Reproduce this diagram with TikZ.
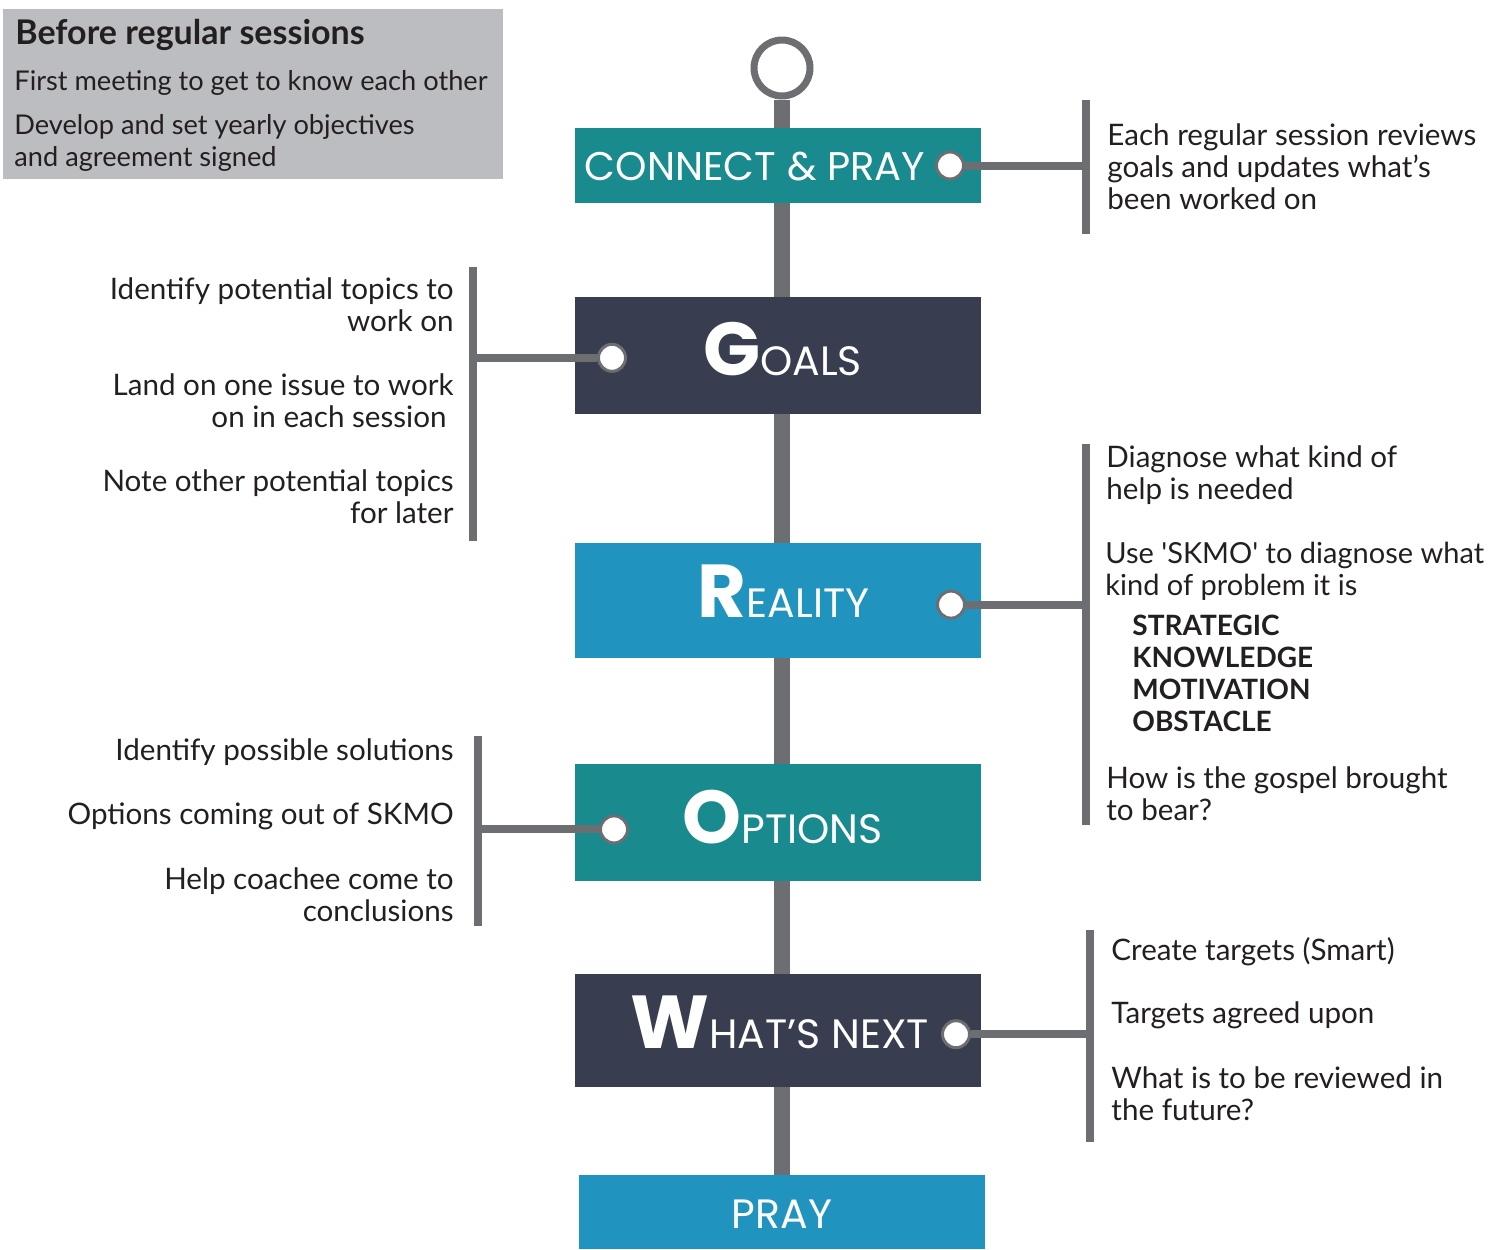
\documentclass[tikz,border=0pt]{standalone}
\usepackage{fontspec}
\setmainfont{Lato}
\newfontfamily\stagefont{Poppins}
\usetikzlibrary{positioning,backgrounds}
\definecolor{stageteal}{HTML}{198A8E}
\definecolor{stagenavy}{HTML}{383D50}
\definecolor{stageblue}{HTML}{2093BF}
\definecolor{linegray}{HTML}{6D6E72}
\definecolor{boxgray}{HTML}{BCBDC1}
\definecolor{inkgray}{HTML}{231F20}
\newcommand\stagecap[2]{{\fontsize{37.5}{37.5}\selectfont\bfseries #1}#2}

\begin{document}
\begin{tikzpicture}[x=0.5pt,y=-0.5pt,
  stage/.style={rectangle, minimum width=203pt, inner sep=0pt},
  stagelabel/.style={text=white, inner sep=0pt, font=\stagefont\fontsize{20.5}{20.5}\selectfont},
  knob/.style={circle, draw=linegray, fill=white, line width=1.5pt, minimum size=13.5pt, inner sep=0pt},
  bar/.style={rectangle, fill=linegray, minimum width=3.75pt, inner sep=0pt},
  branch/.style={draw=linegray, line width=4pt},
  note/.style={text=inkgray, inner sep=0pt, font=\fontsize{14.8}{16}\selectfont},
  boxnote/.style={note, font=\fontsize{13.6}{16}\selectfont}]
\useasboundingbox (0,0) rectangle (1495,1249);

% before regular sessions
\node [rectangle, fill=boxgray, minimum width=250pt, minimum height=85pt, inner sep=0pt] (before) at (253,94) {};
\node [note, anchor=west, font=\fontsize{17}{18}\selectfont\bfseries] (beforett) at (15,35) {Before regular sessions};
\node [boxnote, anchor=west] (before1) at (14,82.5) {First meeting to get to know each other};
\node [boxnote, anchor=west, align=left] (before2) at (14,143) {Develop and set yearly objectives\\and agreement signed};

% stages
\node [circle, draw=linegray, fill=white, line width=3.5pt, minimum size=28pt, inner sep=0pt] (top) at (782,68) {};
\node [stage, fill=stageteal, minimum height=37.5pt] (connect) at (778,165.5) {};
\node [stage, fill=stagenavy, minimum height=58.5pt, below=46.5pt of connect] (goals) {};
\node [stage, fill=stageblue, minimum height=57.5pt, below=64pt of goals] (reality) {};
\node [stage, fill=stageteal, minimum height=58.5pt, below=53pt of reality] (options) {};
\node [stage, fill=stagenavy, minimum height=56.5pt, below=46pt of options] (whats) {};
\node [stage, fill=stageblue, minimum height=37pt, below=43.5pt of whats, xshift=2pt] (pray) {};
\begin{scope}[on background layer]
\draw [linegray, line width=8pt] (top) -- (pray);
\end{scope}

\node [stagelabel, anchor=base, font=\stagefont\fontsize{20}{20}\selectfont] (connectlbl) at ([xshift=-11.5pt,yshift=-7.25pt]connect.center) {CONNECT \& PRAY};
\node [stagelabel, anchor=base] (goalslbl) at ([xshift=2.25pt,yshift=-10.25pt]goals.center) {\stagecap{G}{OALS}};
\node [stagelabel, anchor=base] (realitylbl) at ([xshift=2.75pt,yshift=-8.75pt]reality.center) {\stagecap{R}{EALITY}};
\node [stagelabel, anchor=base] (optionslbl) at ([xshift=2.25pt,yshift=-10.25pt]options.center) {\stagecap{O}{PTIONS}};
\node [stagelabel, anchor=base] (whatslbl) at ([xshift=0.75pt,yshift=-8.75pt]whats.center) {\stagecap{W}{HAT’S NEXT}};
\node [stagelabel, anchor=base] (praylbl) at ([yshift=-8pt]pray.center) {PRAY};

% knobs and brackets
\node [knob] (connectknob) at ([xshift=86pt]connect.center) {};
\node [knob] (goalsknob) at ([xshift=-83pt,yshift=-1.25pt]goals.center) {};
\node [knob] (realityknob) at ([xshift=86.5pt,yshift=-2.25pt]reality.center) {};
\node [knob] (optionsknob) at ([xshift=-82pt,yshift=-3.25pt]options.center) {};
\node [knob] (whatsknob) at ([xshift=89pt,yshift=-1.75pt]whats.center) {};
\node [bar, minimum height=67pt] (connectbar) at (1086,167) {};
\node [bar, minimum height=137pt] (goalsbar) at (473,404) {};
\node [bar, minimum height=190.5pt] (realitybar) at (1086,634.5) {};
\node [bar, minimum height=95pt] (optionsbar) at (478,831) {};
\node [bar, minimum height=106pt] (whatsbar) at (1090,1036) {};
\draw [branch] (connectknob.east) -- (connectknob.east -| connectbar.west);
\draw [branch] (goalsknob.west) -- (goalsknob.west -| goalsbar.east);
\draw [branch] (realityknob.east) -- (realityknob.east -| realitybar.west);
\draw [branch] (optionsknob.west) -- (optionsknob.west -| optionsbar.east);
\draw [branch] (whatsknob.east) -- (whatsknob.east -| whatsbar.west);

% notes
\node [note, anchor=west, align=left] (connectnote) at (1107,167) {Each regular session reviews\\goals and updates what’s\\been worked on};
\node [note, anchor=east, align=right] (goalsnote1) at (454,305) {Identify potential topics to\\work on};
\node [note, anchor=east, align=right] (goalsnote2) at (454,401) {Land on one issue to work\\on in each session\hspace*{3.5pt}};
\node [note, anchor=east, align=right] (goalsnote3) at (454,497) {Note other potential topics\\for later};
\node [note, anchor=west, align=left] (realitynote1) at (1106,475.5) {Diagnose what kind of\\help is needed};
\node [note, anchor=west, align=left, font=\fontsize{14.5}{16}\selectfont] (realitynote2) at (1105,571.5) {Use \textquotesingle SKMO\textquotesingle{} to diagnose what\\kind of problem it is};
\node [note, anchor=west, align=left, font=\fontsize{14}{16}\selectfont\bfseries] (skmo) at (1132,673) {STRATEGIC\\KNOWLEDGE\\MOTIVATION\\OBSTACLE};
\node [note, anchor=west, align=left] (realitynote3) at (1106,794) {How is the gospel brought\\to bear?};
\node [note, anchor=east] (optionsnote1) at (454,752.5) {Identify possible solutions};
\node [note, anchor=east] (optionsnote2) at (454,816.5) {Options coming out of SKMO};
\node [note, anchor=east, align=right] (optionsnote3) at (454,894.5) {Help coachee come to\\conclusions};
\node [note, anchor=west] (whatsnote1) at (1111,951.5) {Create targets (Smart)};
\node [note, anchor=west] (whatsnote2) at (1111,1015.5) {Targets agreed upon};
\node [note, anchor=west, align=left] (whatsnote3) at (1111,1093.5) {What is to be reviewed in\\the future?};
\end{tikzpicture}
\end{document}
